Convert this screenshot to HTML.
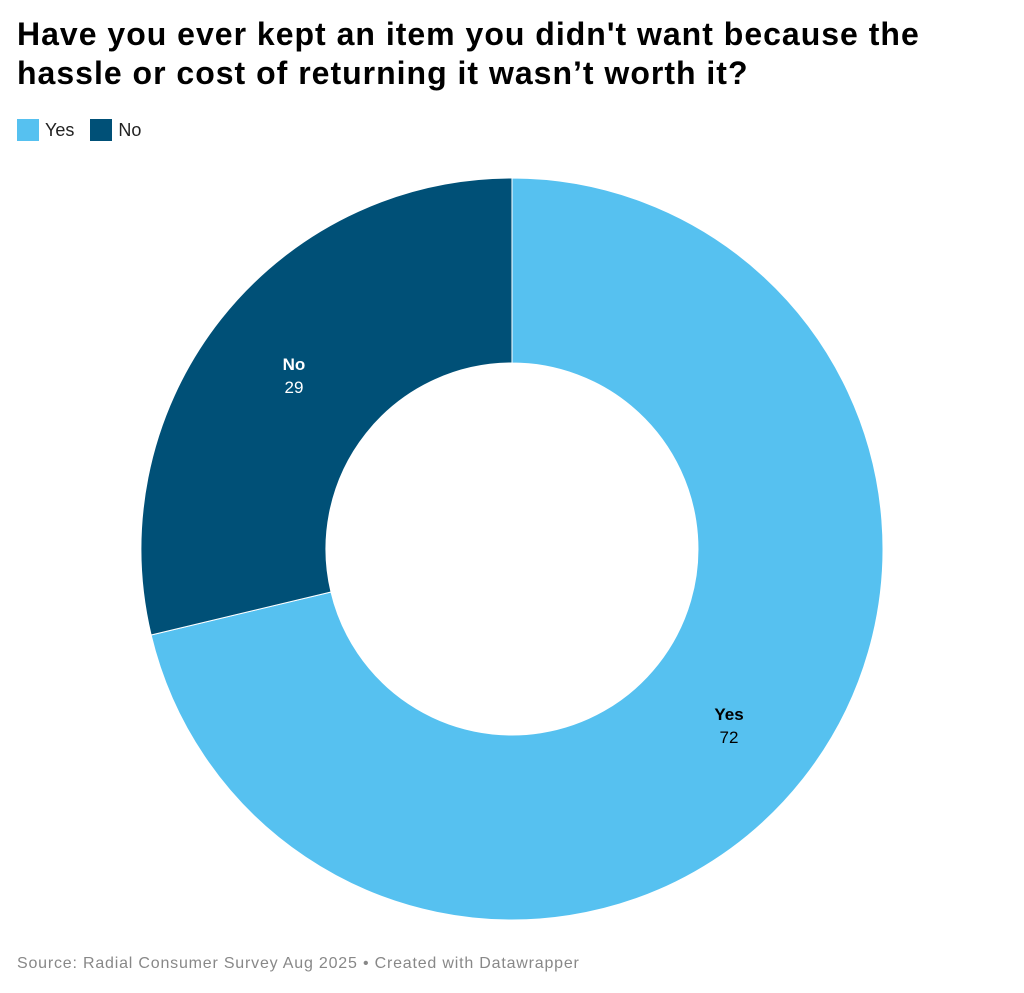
<!DOCTYPE html>
<html><head><meta charset="utf-8"><style>
body{margin:0;width:1024px;height:993px;background:#fff;font-family:"Liberation Sans",sans-serif;position:relative;overflow:hidden}
h1{position:absolute;left:17px;top:15px;margin:0;font-size:32px;line-height:39px;font-weight:bold;color:#000;width:1010px;letter-spacing:1px;white-space:nowrap}
.leg{position:absolute;top:119px;left:17px;font-size:18px;color:#222;display:flex;align-items:center}
.sw{width:22px;height:22px;display:inline-block;margin-right:6px}
.src{position:absolute;left:17px;top:955px;font-size:16px;color:#888;letter-spacing:0.8px}
</style></head><body>
<h1>Have you ever kept an item you didn't want because the<br>hassle or cost of returning it wasn’t worth it?</h1>
<div class="leg"><span class="sw" style="background:#56c1f0"></span>Yes<span class="sw" style="background:#005077;margin-left:16px"></span>No</div>
<svg width="1024" height="993" style="position:absolute;left:0;top:0">
<path d="M512 178 A371 371 0 1 1 151.1 635 L331 592 A186 186 0 1 0 512 363 Z" fill="#56c1f0" stroke="#fff" stroke-width="1"/>
<path d="M512 178 A371 371 0 0 0 151.1 635 L331 592 A186 186 0 0 1 512 363 Z" fill="#005077" stroke="#fff" stroke-width="1"/>
<text x="294" y="370" text-anchor="middle" font-family="Liberation Sans" font-weight="bold" font-size="17" fill="#fff">No</text>
<text x="294" y="393" text-anchor="middle" font-family="Liberation Sans" font-size="17" fill="#fff">29</text>
<text x="729" y="720" text-anchor="middle" font-family="Liberation Sans" font-weight="bold" font-size="17" fill="#000">Yes</text>
<text x="729" y="743" text-anchor="middle" font-family="Liberation Sans" font-size="17" fill="#000">72</text>
</svg>
<div class="src">Source: Radial Consumer Survey Aug 2025 • Created with Datawrapper</div>
</body></html>
